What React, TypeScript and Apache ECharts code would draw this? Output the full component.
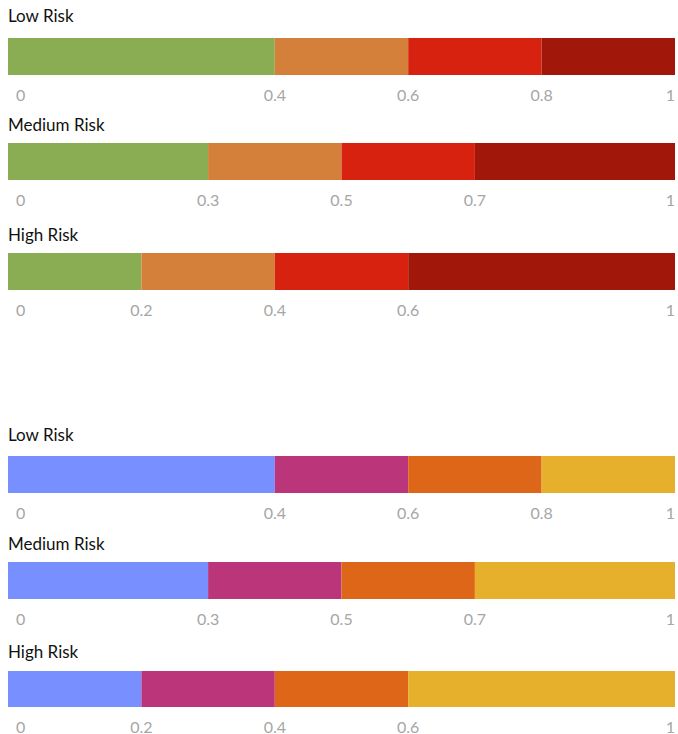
import React, { useEffect, useRef } from "react";
import * as echarts from "echarts";

const riskLevels = ["Low Risk", "Medium Risk", "High Risk"];
const segmentsLow = [0.4, 0.2, 0.2, 0.2];
const segmentsMedium = [0.3, 0.2, 0.2, 0.3];
const segmentsHigh = [0.2, 0.2, 0.2, 0.4];
const ticksLow = [0, 0.4, 0.6, 0.8, 1];
const ticksMedium = [0, 0.3, 0.5, 0.7, 1];
const ticksHigh = [0, 0.2, 0.4, 0.6, 1];
const paletteWarm = ["#8AAC52", "#D4803B", "#D82210", "#A1180A"];
const paletteCool = ["#788FFF", "#BA357A", "#DD6619", "#E6B02D"];

const segmentSets = [segmentsLow, segmentsMedium, segmentsHigh];
const tickSets = [ticksLow, ticksMedium, ticksHigh];

// layout (pixels)
const barTops = [38, 143, 253, 456, 562, 671];
const titleCenters = [16.5, 125.5, 235, 435, 544, 652];
const BAR_H = 37;
const FONT = "Lato, 'Open Sans', 'DejaVu Sans', sans-serif";

export default function App() {
  const ref = useRef<HTMLDivElement>(null);

  useEffect(() => {
    if (!ref.current) return;
    document.body.style.margin = "0";
    document.body.style.overflow = "hidden";
    document.documentElement.style.overflow = "hidden";
    const chart = echarts.init(ref.current, undefined, { renderer: "svg" });

    const grids: any[] = [];
    const xAxes: any[] = [];
    const yAxes: any[] = [];
    const series: any[] = [];
    const titles: any[] = [];

    for (let p = 0; p < 6; p++) {
      const level = p % 3;
      const palette = p < 3 ? paletteWarm : paletteCool;
      const segs = segmentSets[level];
      const ticks = tickSets[level];

      grids.push({ left: 8, right: -3, top: barTops[p], height: BAR_H, containLabel: false });
      titles.push({
        text: riskLevels[level],
        left: 8,
        top: titleCenters[p] - 9.5,
        padding: 0,
        textStyle: { fontFamily: FONT, fontSize: 17, fontWeight: "normal", color: "#111" },
      });
      xAxes.push({
        type: "value",
        gridIndex: p,
        min: 0,
        max: 1,
        axisLine: { show: false },
        axisTick: { show: false },
        splitLine: { show: false },
        axisLabel: {
          customValues: ticks,
          margin: 11,
          color: "#A6A6A6",
          fontFamily: FONT,
          fontSize: 16,
          alignMinLabel: "left",
          alignMaxLabel: "right",
          formatter: (v: number) => (v === 0 ? "{z|0}" : String(v)),
          rich: {
            z: { padding: [0, 0, 0, 8], color: "#A6A6A6", fontFamily: FONT, fontSize: 16 },
          },
        },
      });
      yAxes.push({
        type: "category",
        gridIndex: p,
        data: [riskLevels[level]],
        show: false,
      });
      segs.forEach((v, i) => {
        series.push({
          type: "bar",
          xAxisIndex: p,
          yAxisIndex: p,
          stack: "s" + p,
          data: [v],
          barWidth: "100%",
          itemStyle: { color: palette[i], borderWidth: 0 },
          silent: true,
        });
      });
    }

    chart.setOption({
      animation: false,
      backgroundColor: "#ffffff",
      title: titles,
      grid: grids,
      xAxis: xAxes,
      yAxis: yAxes,
      series,
    });

    return () => chart.dispose();
  }, []);

  return (
    <div
      ref={ref}
      style={{ position: "absolute", left: 0, top: 0, width: 678, height: 734 }}
    />
  );
}
